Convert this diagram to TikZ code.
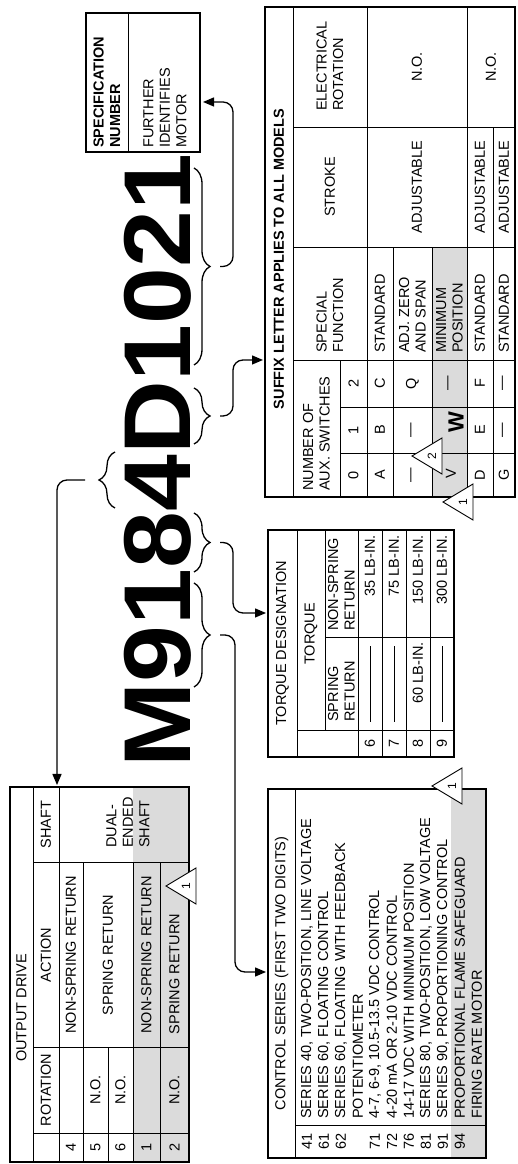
\documentclass[tikz,border=0pt]{standalone}
\usepackage{fontspec}
\setmainfont{Liberation Sans}
\usetikzlibrary{decorations.pathreplacing,arrows.meta}
\tikzset{
  tl/.style={line width=0.8pt},
  frame/.style={line width=1.5pt},
  shade/.style={fill=black!14},
  txt/.style={inner sep=0pt, font=\fontsize{14.5}{16.5}\selectfont},
  lt/.style={txt, anchor=west, align=left},
  ct/.style={txt, anchor=center, align=center},
  bt/.style={txt, font=\fontsize{14.5}{16.5}\selectfont\bfseries},
  brc/.style={decorate, decoration={brace, amplitude=16pt}, line width=1.3pt},
  conn/.style={line width=1.3pt, rounded corners=10pt, -{Triangle[length=11pt,width=9pt]}},
  notetri/.style={line width=0.9pt, fill=white, draw},
}
\newcommand\NoteTri[4]{%
  \draw[notetri] (#2-18,#3+30) -- (#2,#3) -- (#2+18,#3+30) -- cycle;
  \node[txt, font=\fontsize{12}{12}\selectfont] (#1) at (#2,#3+20) {#4};
}
\begin{document}
\begin{tikzpicture}[x=1pt,y=1pt]
\useasboundingbox (0,0) rectangle (518,1164);
\begin{scope}[rotate=90, transform shape, x=1pt, y={(0pt,-1pt)}]

% ---------------- OUTPUT DRIVE ----------------
\fill[shade] (2,133) rectangle (377,189);
\draw[tl] (2,33) -- (377,33);
\draw[tl] (2,59) -- (377,59);
\draw[tl] (31,33) -- (31,189);
\draw[tl] (117,33) -- (117,189);
\draw[tl] (302,33) -- (302,189);
\draw[tl] (2,83) -- (302,83);
\draw[tl] (2,108) -- (117,108);
\draw[tl] (2,133) -- (302,133);
\draw[tl] (2,160) -- (302,160);
\draw[frame] (2,10) rectangle (377,189);
\node[ct] (odT) at (156,21.5) {OUTPUT DRIVE};
\node[ct] (odRot) at (74,46) {ROTATION};
\node[ct] (odAct) at (209,46) {ACTION};
\node[ct] (odSh) at (339.5,46) {SHAFT};
\node[ct] (od4) at (16.5,71) {4};
\node[ct] (od5) at (16.5,95.5) {5};
\node[ct] (od6) at (16.5,120.5) {6};
\node[ct] (od1) at (16.5,146.5) {1};
\node[ct] (od2) at (16.5,174.5) {2};
\node[ct] (odNSRa) at (209,71) {NON-SPRING RETURN};
\node[ct] (odSRa) at (209,108) {SPRING RETURN};
\node[ct] (odNOa) at (74,95.5) {N.O.};
\node[ct] (odNOb) at (74,120.5) {N.O.};
\node[ct] (odNSRb) at (209,146.5) {NON-SPRING RETURN};
\node[ct] (odNOc) at (74,174.5) {N.O.};
\node[ct] (odSRb) at (190,174.5) {SPRING RETURN};
\node[lt] (odDual) at (316,128) {DUAL-\\ENDED\\SHAFT};
\NoteTri{odNote}{278}{166}{1}
\coordinate (odIn) at (379,57);

% ---------------- CONTROL SERIES ----------------
\fill[shade] (6,451) rectangle (375,486);
\draw[tl] (6,295) -- (375,295);
\draw[tl] (39,295) -- (39,486);
\draw[frame] (6,268) rectangle (375,486);
\node[ct] (csT) at (190.5,281.5) {CONTROL SERIES (FIRST TWO DIGITS)};
\node[ct] (cn41) at (22.5,307) {41};
\node[lt] (ct41) at (45,307) {SERIES 40, TWO-POSITION, LINE VOLTAGE};
\node[ct] (cn61) at (22.5,324) {61};
\node[lt] (ct61) at (45,324) {SERIES 60, FLOATING CONTROL};
\node[ct] (cn62) at (22.5,341) {62};
\node[lt] (ct62) at (45,341) {SERIES 60, FLOATING WITH FEEDBACK};
\node[lt] (ct62b) at (45,358) {POTENTIOMETER};
\node[ct] (cn71) at (22.5,375) {71};
\node[lt] (ct71) at (45,375) {4-7, 6-9, 10.5-13.5 VDC CONTROL};
\node[ct] (cn72) at (22.5,392) {72};
\node[lt] (ct72) at (45,392) {4-20 mA OR 2-10 VDC CONTROL};
\node[ct] (cn76) at (22.5,409) {76};
\node[lt] (ct76) at (45,409) {14-17 VDC WITH MINIMUM POSITION};
\node[ct] (cn81) at (22.5,426) {81};
\node[lt] (ct81) at (45,426) {SERIES 80, TWO-POSITION, LOW VOLTAGE};
\node[ct] (cn91) at (22.5,443) {91};
\node[lt] (ct91) at (45,443) {SERIES 90, PROPORTIONING CONTROL};
\node[ct] (cn94) at (22.5,460) {94};
\node[lt] (ct94) at (45,460) {PROPORTIONAL FLAME SAFEGUARD};
\node[lt] (ct94b) at (45,477) {FIRING RATE MOTOR};
\NoteTri{csNote}{378}{432}{1}
\coordinate (csIn) at (192,266);

% ---------------- TORQUE ----------------
\draw[tl] (407,297) -- (634,297);
\draw[tl] (434,297) -- (434,454);
\draw[tl] (434,325) -- (634,325);
\draw[tl] (527,325) -- (527,454);
\draw[tl] (407,358) -- (634,358);
\draw[tl] (407,382) -- (634,382);
\draw[tl] (407,406) -- (634,406);
\draw[tl] (407,430) -- (634,430);
\draw[frame] (407,268) rectangle (634,454);
\node[ct] (tqT) at (520.5,282.5) {TORQUE DESIGNATION};
\node[ct] (tqTq) at (530,311) {TORQUE};
\node[lt] (tqSR) at (442,341.5) {SPRING\\RETURN};
\node[lt] (tqNSR) at (533,341.5) {NON-SPRING\\RETURN};
\node[ct] (tq6) at (420.5,370) {6};
\node[ct] (tq7) at (420.5,394) {7};
\node[ct] (tq8) at (420.5,418) {8};
\node[ct] (tq9) at (420.5,442) {9};
\draw[tl] (442,370) -- (518,370);
\draw[tl] (442,394) -- (518,394);
\draw[tl] (442,442) -- (518,442);
\node[txt, anchor=east] (tq8s) at (522,418) {60 LB-IN.};
\node[txt, anchor=east] (tq6n) at (629,370) {35 LB-IN.};
\node[txt, anchor=east] (tq7n) at (629,394) {75 LB-IN.};
\node[txt, anchor=east] (tq8n) at (629,418) {150 LB-IN.};
\node[txt, anchor=east] (tq9n) at (629,442) {300 LB-IN.};
\coordinate (tqIn) at (551,266);

% ---------------- SUFFIX LETTER ----------------
\fill[shade] (667,432) rectangle (917,467);
\draw[tl] (667,293) -- (1157,293);
\draw[tl] (804,293) -- (804,515);
\draw[tl] (917,293) -- (917,515);
\draw[tl] (1037,293) -- (1037,515);
\draw[tl] (711,340) -- (711,515);
\draw[tl] (757,340) -- (757,515);
\draw[tl] (667,340) -- (804,340);
\draw[tl] (667,367) -- (1157,367);
\draw[tl] (667,393) -- (917,393);
\draw[tl] (667,432) -- (917,432);
\draw[tl] (667,467) -- (1157,467);
\draw[tl] (667,493) -- (1037,493);
\draw[frame] (667,265) rectangle (1157,515);
\node[bt] (sfT) at (905,279) {SUFFIX LETTER APPLIES TO ALL MODELS};
\node[lt] (sfAux) at (673,316.5) {NUMBER OF\\AUX. SWITCHES};
\node[lt] (sfSpec) at (811,330) {SPECIAL\\FUNCTION};
\node[ct] (sfStr) at (977,330) {STROKE};
\node[lt] (sfEl) at (1053,330) {ELECTRICAL\\ROTATION};
\node[ct] (sf0) at (689,353.5) {0};
\node[ct] (sf1) at (734,353.5) {1};
\node[ct] (sf2) at (780.5,353.5) {2};
\node[ct] (sfA) at (689,380) {A};
\node[ct] (sfB) at (734,380) {B};
\node[ct] (sfC) at (780.5,380) {C};
\node[lt] (sfStd1) at (811,380) {STANDARD};
\node[ct] (sfDa) at (689,412.5) {\textemdash};
\node[ct] (sfDb) at (734,412.5) {\textemdash};
\node[ct] (sfQ) at (780.5,412.5) {Q};
\node[lt] (sfAdj) at (811,412.5) {ADJ. ZERO\\AND SPAN};
\node[ct] (sfV) at (690,451) {V};
\node[txt, font=\fontsize{22}{22}\selectfont\bfseries] (sfW) at (742,456) {W};
\node[ct] (sfDc) at (780.5,449.5) {\textemdash};
\node[lt] (sfMin) at (811,449.5) {MINIMUM\\POSITION};
\node[ct] (sfD) at (689,480) {D};
\node[ct] (sfE) at (734,480) {E};
\node[ct] (sfF) at (780.5,480) {F};
\node[lt] (sfStd2) at (811,480) {STANDARD};
\node[ct] (sfG) at (689,504) {G};
\node[ct] (sfDd) at (734,504) {\textemdash};
\node[ct] (sfDe) at (780.5,504) {\textemdash};
\node[lt] (sfStd3) at (811,504) {STANDARD};
\node[ct] (sfAdjA) at (977,417) {ADJUSTABLE};
\node[ct] (sfAdjB) at (977,480) {ADJUSTABLE};
\node[ct] (sfAdjC) at (977,504) {ADJUSTABLE};
\node[ct] (sfNOa) at (1097,417) {N.O.};
\node[ct] (sfNOb) at (1097,491) {N.O.};
\NoteTri{sfNote2}{708}{412}{2}
\NoteTri{sfNote1}{662}{443}{1}
\coordinate (sfIn) at (804,263);

% ---------------- SPECIFICATION NUMBER ----------------
\draw[tl] (1012,128) -- (1151,128);
\draw[frame] (1012,86) rectangle (1151,200);
\node[bt, anchor=west, align=left] (spT) at (1016,107) {SPECIFICATION\\NUMBER};
\node[lt] (spD) at (1016,165) {FURTHER\\IDENTIFIES\\MOTOR};
\coordinate (spIn) at (1062,203);

% ---------------- MODEL NUMBER ----------------
\node[inner sep=0pt, anchor=base west, font=\fontsize{95}{95}\selectfont\bfseries] (code) at (396.6,190) {\scalebox{1.075}[1]{M9184D1021}};

\draw[brc] (656,115) -- (712,115);
\draw[brc] (581,194) -- (477,194);
\draw[brc] (651,194) -- (592,194);
\draw[brc] (776,194) -- (720,194);
\draw[brc] (996,194) -- (799,194);

\coordinate (s4) at (684,85);
\coordinate (s91) at (529,220);
\coordinate (s8) at (621.5,220);
\coordinate (sD) at (748,220);
\coordinate (s1021) at (897.5,220);

\draw[conn] (s4) -- (684,57) -- (odIn);
\draw[conn] (s91) -- (529,235) -- (192,235) -- (csIn);
\draw[conn] (s8) -- (621.5,233) -- (551,233) -- (tqIn);
\draw[conn] (sD) -- (748,233) -- (804,233) -- (sfIn);
\draw[conn] (s1021) -- (897.5,233) -- (1062,233) -- (spIn);

\end{scope}
\end{tikzpicture}
\end{document}
